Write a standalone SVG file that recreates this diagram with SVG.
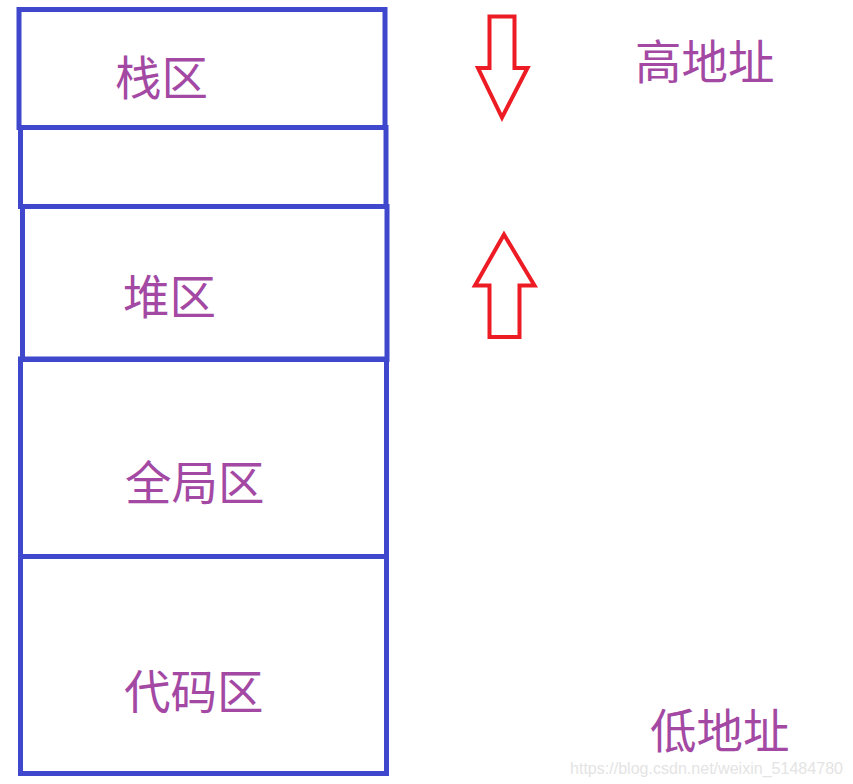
<svg xmlns="http://www.w3.org/2000/svg" width="853" height="784" viewBox="0 0 853 784">
<style>
.box{fill:none;stroke:#3F48CC;stroke-width:5}
.lbl{font-family:"Noto Sans CJK SC","Microsoft YaHei",sans-serif;font-size:46.5px;fill:#A349A4}
.arr{fill:none;stroke:#ED1C24;stroke-width:4;stroke-linejoin:miter}
.wm{font-family:"Liberation Sans",Arial,sans-serif;font-size:16px;fill:#E4E4E4}
</style>
<rect width="853" height="784" fill="#FFFFFF"/>
<g id="gap"><rect class="box" x="20.5" y="127.5" width="365.5" height="79"/></g>
<g id="stack"><rect class="box" x="19" y="9.5" width="366" height="118"/><text class="lbl" x="115" y="95">栈区</text></g>
<g id="heap"><rect class="box" x="22.5" y="206.5" width="364.5" height="153"/><text class="lbl" x="123" y="314">堆区</text></g>
<g id="global"><rect class="box" x="20.5" y="359" width="366" height="197.5"/><text class="lbl" x="125" y="500">全局区</text></g>
<g id="code"><rect class="box" x="20.5" y="556.5" width="366" height="217"/><text class="lbl" x="124" y="709">代码区</text></g>
<g id="high"><text class="lbl" x="635" y="79">高地址</text></g>
<g id="low"><text class="lbl" x="650" y="748">低地址</text></g>
<g id="connectors">
<polygon class="arr" points="489.5,16.5 514.5,16.5 514.5,68 527.5,68 502,117.5 478,68 489.5,68"/>
<polygon class="arr" points="504,234.5 534.5,285.5 519.5,285.5 519.5,337 489.5,337 489.5,285.5 475,285.5"/>
</g>
<text class="wm" x="843" y="773.5" text-anchor="end" textLength="273" lengthAdjust="spacingAndGlyphs">https://blog.csdn.net/weixin_51484780</text>
</svg>
